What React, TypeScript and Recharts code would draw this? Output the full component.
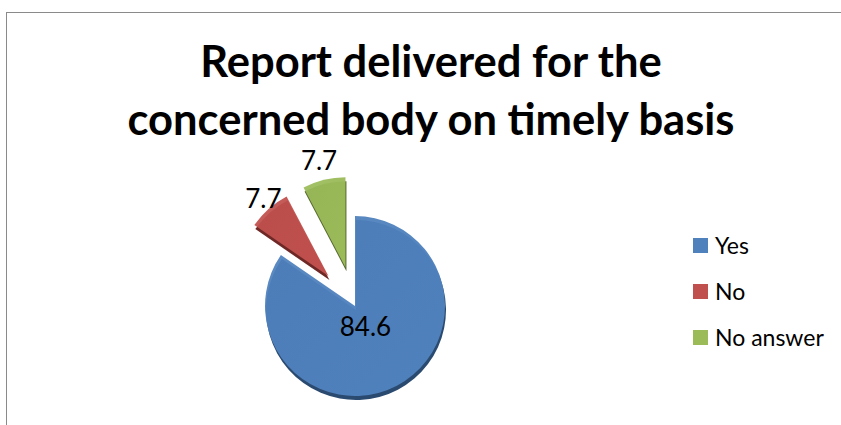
import React from 'react';
import { PieChart, Pie, Cell, Legend } from 'recharts';

const categories = ['Yes', 'No', 'No answer'];
const values = [84.6, 7.7, 7.7];
const labels = ['84.6', '7.7', '7.7'];
const colors = ['#4F81BD', '#C0504D', '#9BBB59'];
const darkColors = ['#2B4A70', '#6E2826', '#56692E'];
const exploded = [false, true, true];

const data = categories.map((name, i) => ({ name, value: values[i] }));

const W = 841;
const H = 425;
const CX = 355;
const CY = 306;
const R = 90;
const EXPLODE = 40;
const FONT = 'Lato, "Open Sans", sans-serif';
const RAD = Math.PI / 180;

const total = values.reduce((a, b) => a + b, 0);
// mid angle (clockwise from 12 o'clock) of each slice in degrees
const midAngles = values.map((v, i) => {
  const before = values.slice(0, i).reduce((a, b) => a + b, 0);
  return ((before + v / 2) / total) * 360;
});
const centers = midAngles.map((a, i) => {
  const d = exploded[i] ? EXPLODE : 0;
  return { x: CX + d * Math.sin(a * RAD), y: CY - d * Math.cos(a * RAD) };
});

const makeLabel = (idx: number) => (props: any) => {
  if (props.index !== idx) return null;
  const { cx, cy, midAngle, outerRadius } = props;
  const inside = idx === 0;
  const r = inside ? outerRadius * 0.25 : outerRadius + (idx === 1 ? 14 : 20);
  const x = cx + r * Math.cos(-midAngle * RAD) + (idx === 1 ? 4 : 0);
  const y = cy + r * Math.sin(-midAngle * RAD);
  return (
    <text
      x={x}
      y={y}
      textAnchor="middle"
      dominantBaseline="central"
      fill="#000"
      fontSize={26}
      fontFamily={FONT}
    >
      {labels[idx]}
    </text>
  );
};

const LegendContent = () => (
  <div style={{ fontFamily: FONT, fontSize: 23, color: '#000' }}>
    {categories.map((c, i) => (
      <div key={c} style={{ display: 'flex', alignItems: 'center', height: 46 }}>
        <span
          style={{
            display: 'inline-block',
            width: 15,
            height: 15,
            background: colors[i],
            marginRight: 7,
          }}
        />
        <span>{c}</span>
      </div>
    ))}
  </div>
);

export default function App() {
  return (
    <div style={{ position: 'absolute', left: 0, top: 0, width: W, height: H, background: '#fff', overflow: 'hidden' }}>
      <div
        style={{
          position: 'absolute',
          left: 6,
          top: 12,
          width: W + 40,
          height: H + 40,
          border: '1px solid #8a8a8a',
          boxSizing: 'border-box',
        }}
      />
      <div
        style={{
          position: 'absolute',
          left: 0,
          top: 31,
          width: 862,
          textAlign: 'center',
          fontFamily: FONT,
          fontWeight: 700,
          fontSize: 43.5,
          lineHeight: '58px',
          color: '#000',
        }}
      >
        Report delivered for the
        <br />
        concerned body on timely basis
      </div>
      <div style={{ position: 'absolute', left: 0, top: 0 }}>
        <PieChart width={W} height={H} margin={{ top: 0, right: 0, bottom: 0, left: 0 }}>
          <defs>
            {colors.map((c, i) => (
              <linearGradient key={c} id={`g${i}`} x1="0" y1="0" x2="1" y2="1">
                <stop offset="0%" stopColor={c} stopOpacity={0.92} />
                <stop offset="100%" stopColor={c} stopOpacity={1} />
              </linearGradient>
            ))}
          </defs>
          {categories.map((c, idx) => (
            <Pie
              key={`shadow-${c}`}
              data={data}
              dataKey="value"
              nameKey="name"
              cx={centers[idx].x + 1}
              cy={centers[idx].y + 4}
              outerRadius={R}
              startAngle={90}
              endAngle={-270}
              stroke="none"
              isAnimationActive={false}
              legendType="none"
            >
              {data.map((d, i) => (
                <Cell key={d.name} fill={i === idx ? darkColors[idx] : 'transparent'} />
              ))}
            </Pie>
          ))}
          {categories.map((c, idx) => (
            <Pie
              key={`main-${c}`}
              data={data}
              dataKey="value"
              nameKey="name"
              cx={centers[idx].x}
              cy={centers[idx].y}
              outerRadius={R}
              startAngle={90}
              endAngle={-270}
              stroke="none"
              isAnimationActive={false}
              labelLine={false}
              label={makeLabel(idx)}
            >
              {data.map((d, i) => (
                <Cell key={d.name} fill={i === idx ? `url(#g${idx})` : 'transparent'} />
              ))}
            </Pie>
          ))}
          <Legend
            layout="vertical"
            align="right"
            verticalAlign="top"
            content={() => <LegendContent />}
            wrapperStyle={{ position: 'absolute', left: 693, top: 222, width: 150 }}
          />
        </PieChart>
      </div>
    </div>
  );
}
